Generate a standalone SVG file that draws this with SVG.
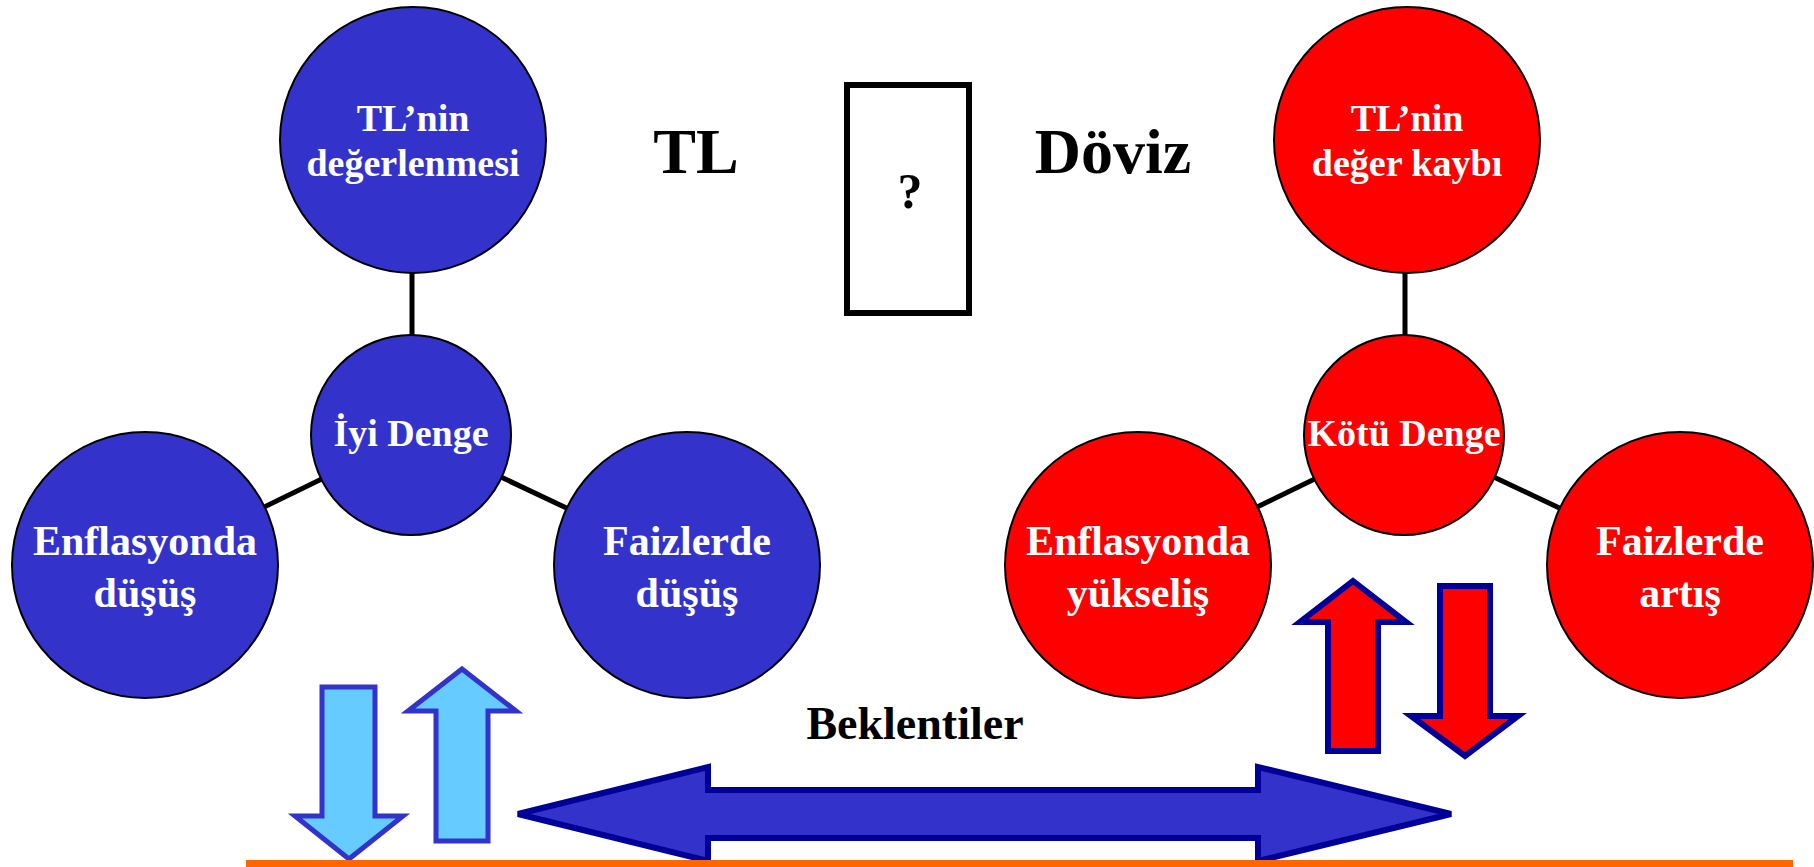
<svg xmlns="http://www.w3.org/2000/svg" width="1814" height="867" viewBox="0 0 1814 867">
<style>
.blue{fill:#3333CC;stroke:#000;stroke-width:2}
.red{fill:#FF0000;stroke:#000;stroke-width:2}
.lbl{font-family:"Liberation Serif","Times New Roman",serif;font-weight:bold;fill:#fff;text-anchor:middle}
.s38{font-size:38px}
.s42{font-size:42px}
.big{font-family:"Liberation Serif","Times New Roman",serif;font-weight:bold;fill:#000;text-anchor:middle}
.conn{stroke:#000;stroke-width:5;fill:none}
.lb{fill:#66CCFF;stroke:#3333CC;stroke-width:5}
.ra{fill:#FF0000;stroke:#000099;stroke-width:6}
</style>
<rect width="1814" height="867" fill="#fff"/>
<g id="connectors">
<line class="conn" x1="412" y1="140" x2="412" y2="435"/>
<line class="conn" x1="412" y1="435" x2="145" y2="565"/>
<line class="conn" x1="412" y1="435" x2="687" y2="565"/>
<line class="conn" x1="1405" y1="140" x2="1405" y2="435"/>
<line class="conn" x1="1405" y1="435" x2="1138" y2="565"/>
<line class="conn" x1="1405" y1="435" x2="1680" y2="565"/>
</g>
<g id="tl-degerlenmesi"><circle class="blue" cx="413" cy="140" r="133"/>
<text class="lbl s38" x="413" y="131">TL’nin</text><text class="lbl s38" x="413" y="176">değerlenmesi</text></g>
<g id="iyi-denge"><circle class="blue" cx="411" cy="435" r="100"/>
<text class="lbl s38" x="411" y="446">İyi Denge</text></g>
<g id="enf-dusus"><circle class="blue" cx="145" cy="565" r="133"/>
<text class="lbl s42" x="145" y="555">Enflasyonda</text><text class="lbl s42" x="145" y="607">düşüş</text></g>
<g id="faiz-dusus"><circle class="blue" cx="687" cy="565" r="133"/>
<text class="lbl s42" x="687" y="555">Faizlerde</text><text class="lbl s42" x="687" y="607">düşüş</text></g>
<g id="tl-deger-kaybi"><circle class="red" cx="1407" cy="140" r="133"/>
<text class="lbl s38" x="1407" y="131">TL’nin</text><text class="lbl s38" x="1407" y="176">değer kaybı</text></g>
<g id="kotu-denge"><circle class="red" cx="1404" cy="435" r="100"/>
<text class="lbl s38" x="1404" y="446">Kötü Denge</text></g>
<g id="enf-yukselis"><circle class="red" cx="1138" cy="565" r="133"/>
<text class="lbl s42" x="1138" y="555">Enflasyonda</text><text class="lbl s42" x="1138" y="607">yükseliş</text></g>
<g id="faiz-artis"><circle class="red" cx="1680" cy="565" r="133"/>
<text class="lbl s42" x="1680" y="555">Faizlerde</text><text class="lbl s42" x="1680" y="607">artış</text></g>
<g id="tl-title"><text class="big" x="696" y="173" font-size="64">TL</text></g>
<g id="question-box"><rect x="847" y="85" width="122" height="228" fill="#fff" stroke="#000" stroke-width="6"/>
<text class="big" x="910" y="208" font-size="50">?</text></g>
<g id="doviz-title"><text class="big" x="1113" y="173" font-size="64">Döviz</text></g>
<g id="beklentiler"><text class="big" x="915" y="739" font-size="46">Beklentiler</text></g>
<g id="double-arrow"><polygon fill="#3333CC" stroke="#000099" stroke-width="6" points="518,814 708,767 708,790 1258,790 1258,767 1451,814 1258,861 1258,838 708,838 708,861"/></g>
<g id="lb-down"><polygon class="lb" points="322,687 375,687 375,816 403,816 349,859 295,816 322,816"/></g>
<g id="lb-up"><polygon class="lb" points="462,669 516,711 488,711 488,841 436,841 436,711 408,711"/></g>
<g id="red-up"><polygon class="ra" points="1353,581 1406,622 1378,622 1378,751 1328,751 1328,622 1300,622"/></g>
<g id="red-down"><polygon class="ra" points="1440,586 1490,586 1490,716 1518,716 1465,756 1411,716 1440,716"/></g>
<rect id="baseline" x="246" y="860" width="1547" height="7" fill="#FF6600"/>
</svg>
